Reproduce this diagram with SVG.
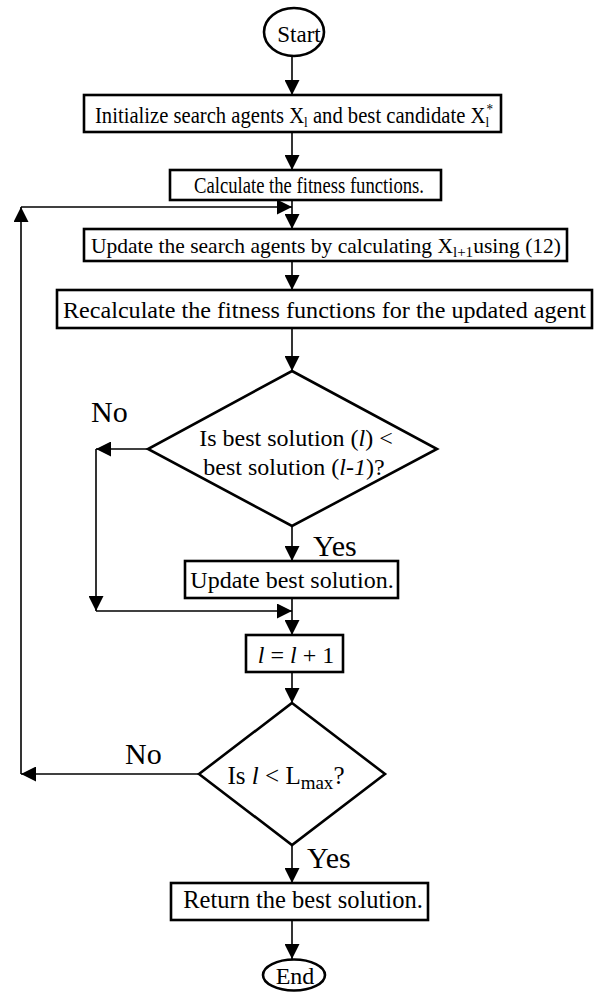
<svg xmlns="http://www.w3.org/2000/svg" width="598" height="992" viewBox="0 0 598 992">
<style>
.box{fill:#fff;stroke:#000;stroke-width:2.6}
.ln{fill:none;stroke:#000;stroke-width:1.6}
text{font-family:"Liberation Serif","Times New Roman",serif;fill:#000}
.i{font-style:italic}
.lbl{font-size:30px}
</style>
<defs>
<marker id="ah" markerUnits="userSpaceOnUse" markerWidth="15" markerHeight="15" refX="15" refY="7.5" orient="auto">
<path d="M0,0 L15,7.5 L0,15 z" fill="#000"/>
</marker>
</defs>
<rect width="598" height="992" fill="#fff"/>
<g id="connectors">
<line class="ln" x1="292" y1="56" x2="292" y2="95" marker-end="url(#ah)"/>
<line class="ln" x1="292" y1="132" x2="292" y2="170" marker-end="url(#ah)"/>
<line class="ln" x1="292" y1="200" x2="292" y2="229" marker-end="url(#ah)"/>
<line class="ln" x1="292" y1="261" x2="292" y2="290" marker-end="url(#ah)"/>
<line class="ln" x1="292" y1="328" x2="292" y2="371" marker-end="url(#ah)"/>
<line class="ln" x1="148" y1="449" x2="96" y2="449" marker-end="url(#ah)"/>
<line class="ln" x1="96" y1="449" x2="96" y2="611" marker-end="url(#ah)"/>
<line class="ln" x1="96" y1="611" x2="292" y2="611" marker-end="url(#ah)"/>
<line class="ln" x1="292" y1="526" x2="292" y2="561" marker-end="url(#ah)"/>
<line class="ln" x1="292" y1="598" x2="292" y2="635" marker-end="url(#ah)"/>
<line class="ln" x1="292" y1="672" x2="292" y2="703" marker-end="url(#ah)"/>
<line class="ln" x1="199" y1="774" x2="21" y2="774" marker-end="url(#ah)"/>
<line class="ln" x1="21" y1="774" x2="21" y2="207" marker-end="url(#ah)"/>
<line class="ln" x1="21" y1="207" x2="292" y2="207" marker-end="url(#ah)"/>
<line class="ln" x1="292" y1="845" x2="292" y2="883" marker-end="url(#ah)"/>
<line class="ln" x1="292" y1="920" x2="292" y2="959" marker-end="url(#ah)"/>
<text class="lbl" x="91" y="422">No</text>
<text class="lbl" x="313" y="556">Yes</text>
<text class="lbl" x="125" y="764">No</text>
<text class="lbl" x="307" y="868">Yes</text>
</g>
<g id="start">
<ellipse class="box" cx="294" cy="32" rx="30" ry="24"/>
<text x="299" y="42" font-size="23" text-anchor="middle">Start</text>
</g>
<g id="init">
<rect class="box" x="84" y="95" width="417" height="37"/>
<text x="95" y="123" font-size="23.5" textLength="398" lengthAdjust="spacingAndGlyphs">Initialize search agents X<tspan font-size="15" dy="4">l</tspan><tspan dy="-4"> and best candidate X</tspan><tspan font-size="15" dy="4">l</tspan><tspan font-size="15" dx="-3" dy="-13">*</tspan></text>
</g>
<g id="calc">
<rect class="box" x="170" y="170" width="271" height="30"/>
<text x="194" y="193" font-size="23.5" textLength="230" lengthAdjust="spacingAndGlyphs">Calculate the fitness functions.</text>
</g>
<g id="update">
<rect class="box" x="84" y="229" width="483" height="32"/>
<text x="91" y="253" font-size="21.5" textLength="470" lengthAdjust="spacingAndGlyphs">Update the search agents by calculating X<tspan font-size="15" dy="4">l+1</tspan><tspan dy="-4">using (12)</tspan></text>
</g>
<g id="recalc">
<rect class="box" x="57" y="290" width="535" height="38"/>
<text x="63" y="318" font-size="24" textLength="523" lengthAdjust="spacingAndGlyphs">Recalculate the fitness functions for the updated agent</text>
</g>
<g id="decision1">
<polygon class="box" points="292,371 437,449 292,526 148,449"/>
<text x="296" y="446" font-size="24" text-anchor="middle">Is best solution (<tspan class="i">l</tspan>) &lt;</text>
<text x="294" y="475" font-size="24" text-anchor="middle">best solution (<tspan class="i">l-1</tspan>)?</text>
</g>
<g id="updatebest">
<rect class="box" x="185" y="561" width="213" height="37"/>
<text x="292" y="588" font-size="24" text-anchor="middle">Update best solution.</text>
</g>
<g id="increment">
<rect class="box" x="246" y="635" width="97" height="37"/>
<text x="296" y="663" font-size="24" text-anchor="middle"><tspan class="i">l</tspan> = <tspan class="i">l</tspan> + 1</text>
</g>
<g id="decision2">
<polygon class="box" points="292,703 385,774 292,845 199,774"/>
<text x="286" y="784" font-size="25" text-anchor="middle">Is <tspan class="i">l</tspan> &lt; L<tspan font-size="19" dy="5">max</tspan><tspan dy="-5">?</tspan></text>
</g>
<g id="return">
<rect class="box" x="171" y="883" width="257" height="37"/>
<text x="303" y="908" font-size="24.5" text-anchor="middle">Return the best solution.</text>
</g>
<g id="end">
<ellipse class="box" cx="294" cy="975" rx="31" ry="15.5"/>
<text x="295" y="984" font-size="24" text-anchor="middle">End</text>
</g>
</svg>
